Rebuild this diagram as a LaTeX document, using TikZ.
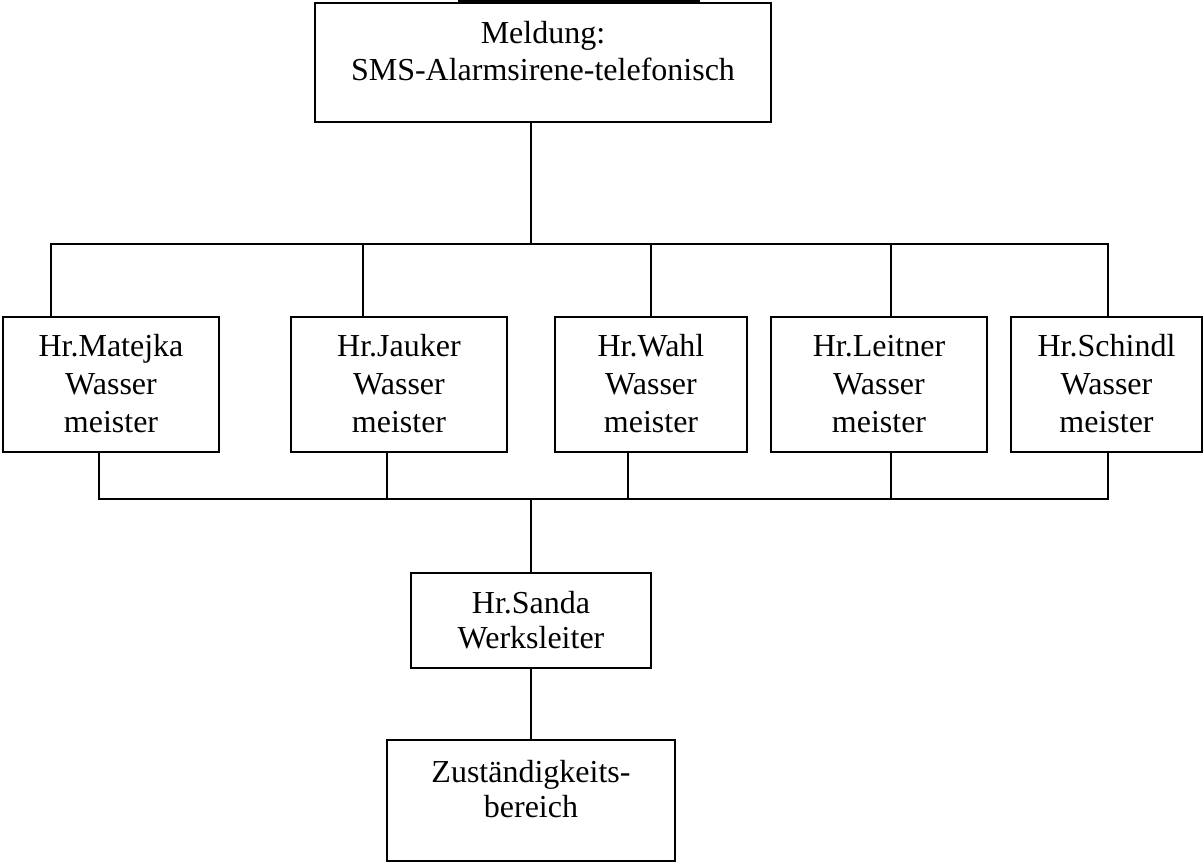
\documentclass[tikz,border=0pt]{standalone}
\usepackage{fontspec}
\setmainfont{Liberation Serif}
\begin{document}
\begin{tikzpicture}[x=1pt,y=-1pt,
  box/.style={draw,rectangle,inner sep=0pt,line width=1.3pt,minimum height=135pt,minimum width=216pt},
  txt/.style={anchor=base,inner sep=0pt,font=\fontsize{32}{37}\selectfont},
  conn/.style={line width=1.3pt}]
\useasboundingbox (0,0) rectangle (1203,862);
\clip (0,0) rectangle (1203,862);
% cut-off box above
\node[box,minimum width=240pt,minimum height=60pt] (above) at (579,-29) {};
% boxes
\node[box,minimum width=456pt,minimum height=119pt] (top) at (543,62.5) {};
\node[box] (m) at (111,384.5) {};
\node[box] (j) at (399,384.5) {};
\node[box,minimum width=192pt] (w) at (651,384.5) {};
\node[box] (l) at (879,384.5) {};
\node[box,minimum width=191pt] (s) at (1106.5,384.5) {};
\node[box,minimum width=240pt,minimum height=95pt] (sanda) at (531,620.5) {};
\node[box,minimum width=288pt,minimum height=121pt] (z) at (531,800.5) {};
% texts
\node[txt] (top1) at (543,43) {Meldung:};
\node[txt] (top2) at (543,80) {SMS-Alarmsirene-telefonisch};
\node[txt] (m1) at (111,356) {Hr.Matejka};
\node[txt] (m2) at (111,394) {Wasser};
\node[txt] (m3) at (111,432) {meister};
\node[txt] (j1) at (399,356) {Hr.Jauker};
\node[txt] (j2) at (399,394) {Wasser};
\node[txt] (j3) at (399,432) {meister};
\node[txt] (w1) at (651,356) {Hr.Wahl};
\node[txt] (w2) at (651,394) {Wasser};
\node[txt] (w3) at (651,432) {meister};
\node[txt] (l1) at (879,356) {Hr.Leitner};
\node[txt] (l2) at (879,394) {Wasser};
\node[txt] (l3) at (879,432) {meister};
\node[txt] (s1) at (1106.5,356) {Hr.Schindl};
\node[txt] (s2) at (1106.5,394) {Wasser};
\node[txt] (s3) at (1106.5,432) {meister};
\node[txt] (sa1) at (531,613) {Hr.Sanda};
\node[txt] (sa2) at (531,648) {Werksleiter};
\node[txt] (z1) at (531,782) {Zuständigkeits-};
\node[txt] (z2) at (531,817) {bereich};
% bus coordinates
\coordinate (tb) at (531,244);
\coordinate (bb) at (531,499);
% top connectors
\draw[conn] (top.south -| tb) -- (tb);
\draw[conn] ([xshift=-60pt]m.north) |- ([xshift=1.5pt]s.north |- tb) -- ([xshift=1.5pt]s.north);
\draw[conn] ([xshift=-36pt]j.north) -- ([xshift=-36pt]j.north |- tb);
\draw[conn] (w.north) -- (w.north |- tb);
\draw[conn] ([xshift=12pt]l.north) -- ([xshift=12pt]l.north |- tb);
% bottom connectors
\draw[conn] ([xshift=-12pt]m.south) |- ([xshift=1.5pt]s.south |- bb) -- ([xshift=1.5pt]s.south);
\draw[conn] ([xshift=-12pt]j.south) -- ([xshift=-12pt]j.south |- bb);
\draw[conn] ([xshift=-23pt]w.south) -- ([xshift=-23pt]w.south |- bb);
\draw[conn] ([xshift=12pt]l.south) -- ([xshift=12pt]l.south |- bb);
\draw[conn] (bb) -- (sanda.north);
\draw[conn] (sanda.south) -- (z.north);
\end{tikzpicture}
\end{document}
